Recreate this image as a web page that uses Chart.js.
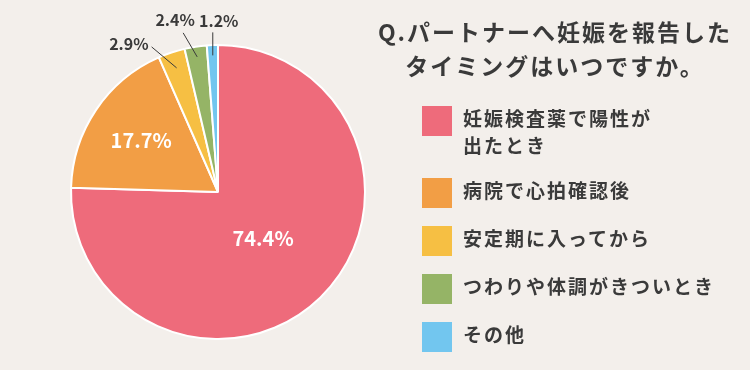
<!DOCTYPE html>
<html lang="ja">
<head>
<meta charset="utf-8">
<script src="https://cdn.jsdelivr.net/npm/chart.js@4.4.0/dist/chart.umd.min.js"></script>
<style>
  body { margin: 0; background: #f3efeb; }
  #wrap { position: relative; width: 750px; height: 370px; background: #f3efeb; overflow: hidden; }
  #chart { position: absolute; left: 0; top: 0; }
  #title {
    position: absolute; left: 355px; width: 400px; top: 14px;
    text-align: center; font-family: "Noto Sans CJK JP", sans-serif;
    font-weight: 700; font-size: 23px; line-height: 34px; letter-spacing: 2px; color: #3a3a3a;
  }
  #legend { position: absolute; left: 422px; top: 0; font-family: "Noto Sans CJK JP", sans-serif; }
  .item { position: absolute; left: 0; width: 330px; }
  .box { position: absolute; left: 0; top: 0; width: 30px; height: 30px; }
  .txt { position: absolute; left: 41px; top: -2px; font-weight: 700; font-size: 19px; line-height: 27px; letter-spacing: 2px; color: #3a3a3a; white-space: nowrap; }
</style>
</head>
<body>
<div id="wrap">
  <canvas id="chart" width="750" height="370"></canvas>
  <div id="title">Q.パートナーへ妊娠を報告した<br>タイミングはいつですか。</div>
  <div id="legend"></div>
</div>
<script>
const labels = [
  "妊娠検査薬で陽性が\n出たとき",
  "病院で心拍確認後",
  "安定期に入ってから",
  "つわりや体調がきついとき",
  "その他",
];
const values = [74.4, 17.7, 2.9, 2.4, 1.2];
const colors = ["#ee6b7b", "#f29e45", "#f6bf43", "#95b466", "#72c6ef"];

// legend on the right
const legendTops = [106, 178, 226, 274, 322];
const legend = document.getElementById("legend");
for (let i = 0; i < labels.length; i++) {
  const item = document.createElement("div");
  item.className = "item";
  item.style.top = legendTops[i] + "px";
  const box = document.createElement("div");
  box.className = "box";
  box.style.background = colors[i];
  const txt = document.createElement("div");
  txt.className = "txt";
  txt.innerHTML = labels[i].replace("\n", "<br>");
  item.appendChild(box);
  item.appendChild(txt);
  legend.appendChild(item);
}

// percent labels: big slices inside, small ones with a leader line
const inside = { 0: 0.44, 1: 0.63 };
const callouts = {
  2: { r: 0.89, line: [-25, -21], text: [-3, -3], align: "right" },
  3: { r: 0.93, line: [-14, -24], text: [-8, -13], align: "center" },
  4: { r: 0.93, line: [0, -23], text: [6, -11], align: "center" },
};

const pctLabels = {
  id: "pctLabels",
  afterDatasetsDraw(chart) {
    const ctx = chart.ctx;
    const arcs = chart.getDatasetMeta(0).data;
    ctx.save();
    ctx.textBaseline = "middle";
    arcs.forEach((arc, i) => {
      const p = arc.getProps(["x", "y", "startAngle", "endAngle", "outerRadius"], true);
      const mid = (p.startAngle + p.endAngle) / 2;
      const text = values[i].toFixed(1) + "%";
      if (inside[i] !== undefined) {
        const r = p.outerRadius * inside[i];
        ctx.fillStyle = "#ffffff";
        ctx.font = "700 20px 'Noto Sans CJK JP', sans-serif";
        ctx.textAlign = "center";
        ctx.fillText(text, p.x + Math.cos(mid) * r, p.y + Math.sin(mid) * r);
      } else {
        const c = callouts[i];
        const r = p.outerRadius * c.r;
        const ex = p.x + Math.cos(mid) * r;
        const ey = p.y + Math.sin(mid) * r;
        const sx = ex + c.line[0];
        const sy = ey + c.line[1];
        ctx.strokeStyle = "#3a3a3a";
        ctx.lineWidth = 1;
        ctx.beginPath();
        ctx.moveTo(sx, sy);
        ctx.lineTo(ex, ey);
        ctx.stroke();
        ctx.fillStyle = "#3a3a3a";
        ctx.font = "700 16px 'Noto Sans CJK JP', sans-serif";
        ctx.textAlign = c.align;
        ctx.fillText(text, sx + c.text[0], sy + c.text[1]);
      }
    });
    ctx.restore();
  },
};

new Chart(document.getElementById("chart"), {
  type: "pie",
  data: {
    labels: labels,
    datasets: [
      {
        data: values,
        backgroundColor: colors,
        borderColor: "#ffffff",
        borderWidth: 2,
      },
    ],
  },
  options: {
    responsive: false,
    animation: false,
    layout: { padding: { left: 70, right: 384, top: 44, bottom: 30 } },
    plugins: {
      legend: { display: false },
      tooltip: { enabled: false },
    },
  },
  plugins: [pctLabels],
});
</script>
</body>
</html>
